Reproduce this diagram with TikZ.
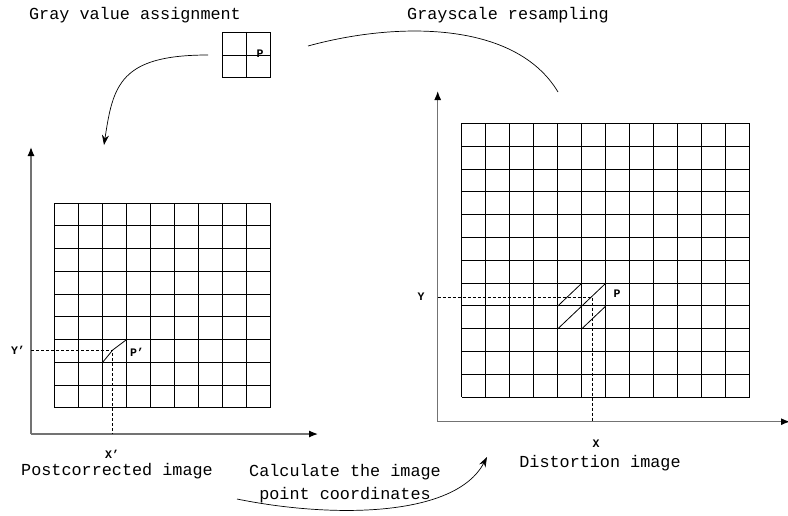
\documentclass[tikz,border=0pt]{standalone}
\usepackage{fontspec}
\setmainfont{Liberation Mono}
\usepackage{tikz}
\usetikzlibrary{arrows.meta,positioning}
\tikzset{
  caption/.style={
    font=\fontsize{16.8}{23}\selectfont,
    inner sep=0pt,
    align=center
  },
  tag/.style={
    font=\fontsize{11.5}{13}\selectfont\bfseries,
    inner sep=0pt
  },
  arrow/.style={
    -{Stealth[length=10pt,width=7pt]},
    line width=0.7pt
  }
}

\begin{document}
\begin{tikzpicture}[
  x=1pt, y=-1pt,
  cell_line/.style={line width=0.8pt, draw=black},
  axis_line/.style={line width=1.2pt, draw=black!55, -{Latex[length=9pt,width=7pt,color=black]}},
  guide_line/.style={line width=0.7pt, dash pattern=on 3pt off 2pt},
  pixel_block/.style={rectangle, draw=black, line width=0.8pt, minimum width=47.7pt, minimum height=45.4pt, inner sep=0pt}
]
\useasboundingbox (0,0) rectangle (788,515);

% Titles
\node[caption] (assign) at (135,15) {Gray value assignment};
\node[caption] (resample) at (508,15) {Grayscale resampling};
\node[caption] (post) at (117,471) {Postcorrected image};
\node[caption] (dist) at (600,463) {Distortion image};
\node[caption] (calc) at (345,484) {Calculate the image\\point coordinates};

% Small pixel block
\node[pixel_block] (pix) at (246.3,55) {};
\draw[cell_line] (pix.north) -- (pix.south);
\draw[cell_line] (pix.west) -- (pix.east);
\node[tag] (pp) at (260,54) {P};

% Postcorrected grid (9 x 9)
\begin{scope}[shift={(54.7,203)}]
  \foreach \i in {0,...,9} {
    \draw[cell_line] (\i*24,0) -- (\i*24,204.75);
    \draw[cell_line] (0,\i*22.75) -- (216,\i*22.75);
  }
\end{scope}

% Distortion grid (12 x 12)
\begin{scope}[shift={(461.7,123.3)}]
  \foreach \i in {0,...,12} {
    \draw[cell_line] (\i*24,0) -- (\i*24,273.6);
    \draw[cell_line] (0,\i*22.8) -- (288,\i*22.8);
  }
\end{scope}

% Axes
\coordinate (lo) at (31,434);
\coordinate (ly) at (31,147);
\coordinate (lx) at (318,434);
\coordinate (ro) at (437.7,421.7);
\coordinate (ry) at (437.7,91);
\coordinate (rx) at (790,421.7);
\draw[axis_line] (lo) -- (ly);
\draw[axis_line] (lo) -- (lx);
\draw[axis_line] (ro) -- (ry);
\draw[axis_line] (ro) -- (rx);

% Point P'
\coordinate (pd) at (112.7,350);
\coordinate (pdy) at (31,350);
\coordinate (pdx) at (112.7,434);
\draw[guide_line] (pdy) -- (pd) -- (pdx);
\draw[line width=0.8pt] (102.7,362.3) -- (pd) -- (126.7,339.5);
\node[tag] (pdl) at (137,352) {P'};
\node[tag] (ydl) at (18,350) {Y'};
\node[tag] (xdl) at (112,454) {X'};

% Point P
\coordinate (pt) at (592.3,297.3);
\coordinate (pty) at (437.7,297.3);
\coordinate (ptx) at (592.3,421.7);
\draw[guide_line] (pty) -- (pt) -- (ptx);
\draw[line width=0.8pt] (557.7,306.1) -- (581.7,283.3);
\draw[line width=0.8pt] (557.7,328.9) -- (605.7,283.3);
\draw[line width=0.8pt] (581.7,328.9) -- (605.7,306.1);
\node[tag] (ptl) at (617,294) {P};
\node[tag] (ytl) at (421,297) {Y};
\node[tag] (xtl) at (596,443.5) {X};

% Flow curves
\coordinate (a1) at (208,55);
\coordinate (a2) at (104,145);
\draw[arrow] (a1) .. controls (120,55) and (113,85) .. (a2);
\coordinate (b1) at (308,46);
\coordinate (b2) at (558,92);
\draw[line width=0.7pt] (b1) .. controls (395,22) and (515,20) .. (b2);
\coordinate (c1) at (237,499);
\coordinate (c2) at (487,457);
\draw[arrow] (c1) .. controls (330,518) and (455,518) .. (c2);

\end{tikzpicture}
\end{document}
